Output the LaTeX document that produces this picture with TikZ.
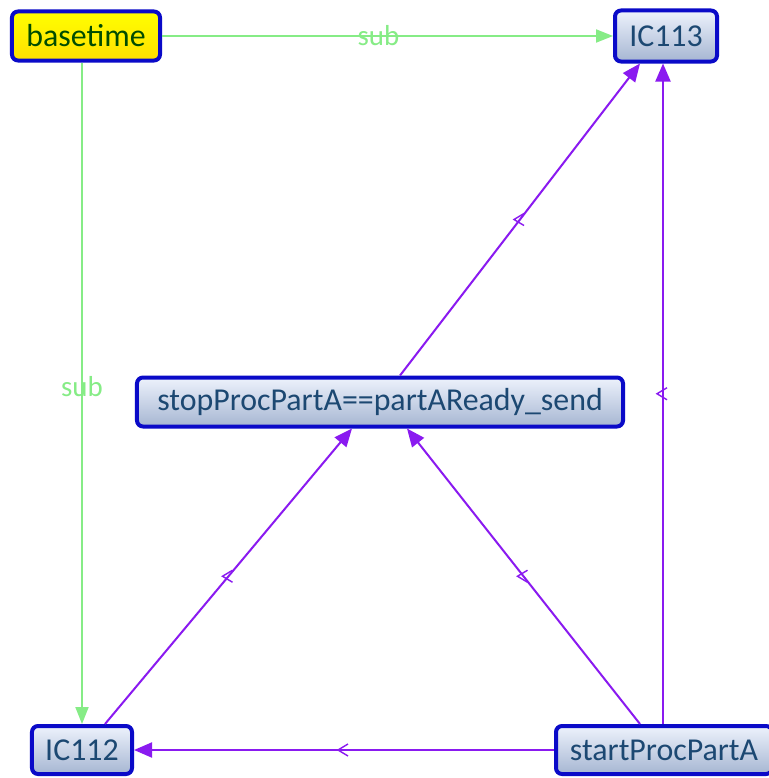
\documentclass[tikz,border=0pt]{standalone}
\usepackage{fontspec}
\setmainfont{Carlito}
\usetikzlibrary{arrows.meta}
\definecolor{boxblue}{HTML}{0A0AC8}
\definecolor{boxtext}{HTML}{1C4872}
\definecolor{boxtop}{HTML}{EDF2FC}
\definecolor{boxbottom}{HTML}{A6B6D2}
\definecolor{edgeviolet}{HTML}{8A1AF0}
\definecolor{subgreen}{HTML}{86EC86}
\tikzset{
  state/.style={draw=boxblue, line width=4bp, rounded corners=6bp, top color=boxtop, bottom color=boxbottom, text=boxtext, font=\fontsize{32}{34}\selectfont, inner sep=0pt, minimum height=49bp},
  clock/.style={state, top color=yellow, bottom color=yellow!75!orange, text=green!30!black},
  dep/.style={draw=edgeviolet, line width=2bp, -{Triangle[length=18bp,width=15bp]}},
  midmark/.style={draw=edgeviolet, line width=1.4bp},
  sub/.style={draw=subgreen, line width=2bp, -{Triangle[length=17bp,width=13bp]}},
  sublabel/.style={text=subgreen, font=\fontsize{29}{31}\selectfont, inner sep=0pt}
}
\newcommand{\midmark}[1]{\draw[midmark] (#1) ++(4,-6) -- ++(-10,6) -- ++(10,6);}
\begin{document}
\begin{tikzpicture}[x=1bp, y=-1bp]
  \useasboundingbox[fill=white] (0,0) rectangle (769,778);

  \node[clock, minimum width=148bp] (basetime) at (86,36) {basetime};
  \node[state, minimum width=102bp, minimum height=51bp] (ic113) at (666,36) {IC113};
  \node[state, minimum width=486bp] (stop) at (380,402) {stopProcPartA==partAReady\_send};
  \node[state, minimum width=100bp, minimum height=48bp] (ic112) at (82,750) {IC112};
  \node[state, minimum width=216bp, minimum height=48bp] (start) at (664,750) {startProcPartA};

  % sub edges
  \draw[sub] (basetime.east) -- (ic113.west) node[sublabel, pos=0.48] {sub};
  \draw[sub] (basetime.south -| ic112.north) -- (ic112.north) node[sublabel, pos=0.49] {sub};

  % dependencies
  \draw[dep] ([xshift=20bp]stop.north) -- coordinate[pos=0.5] (m1) ([xshift=-26bp]ic113.south);
  \draw[dep] ([xshift=-1bp]start.north) -- coordinate[pos=0.5] (m2) ([xshift=-1bp]start.north |- ic113.south);
  \draw[dep] ([xshift=23bp]ic112.north) -- coordinate[pos=0.5] (m3) ([xshift=-28bp]stop.south);
  \draw[dep] ([xshift=-24bp]start.north) -- coordinate[pos=0.5] (m4) ([xshift=27bp]stop.south);
  \draw[dep] (start.west) -- coordinate[pos=0.5] (m5) (ic112.east);
  \foreach \m in {m1,m2,m3,m4,m5} {\midmark{\m}}
\end{tikzpicture}
\end{document}
